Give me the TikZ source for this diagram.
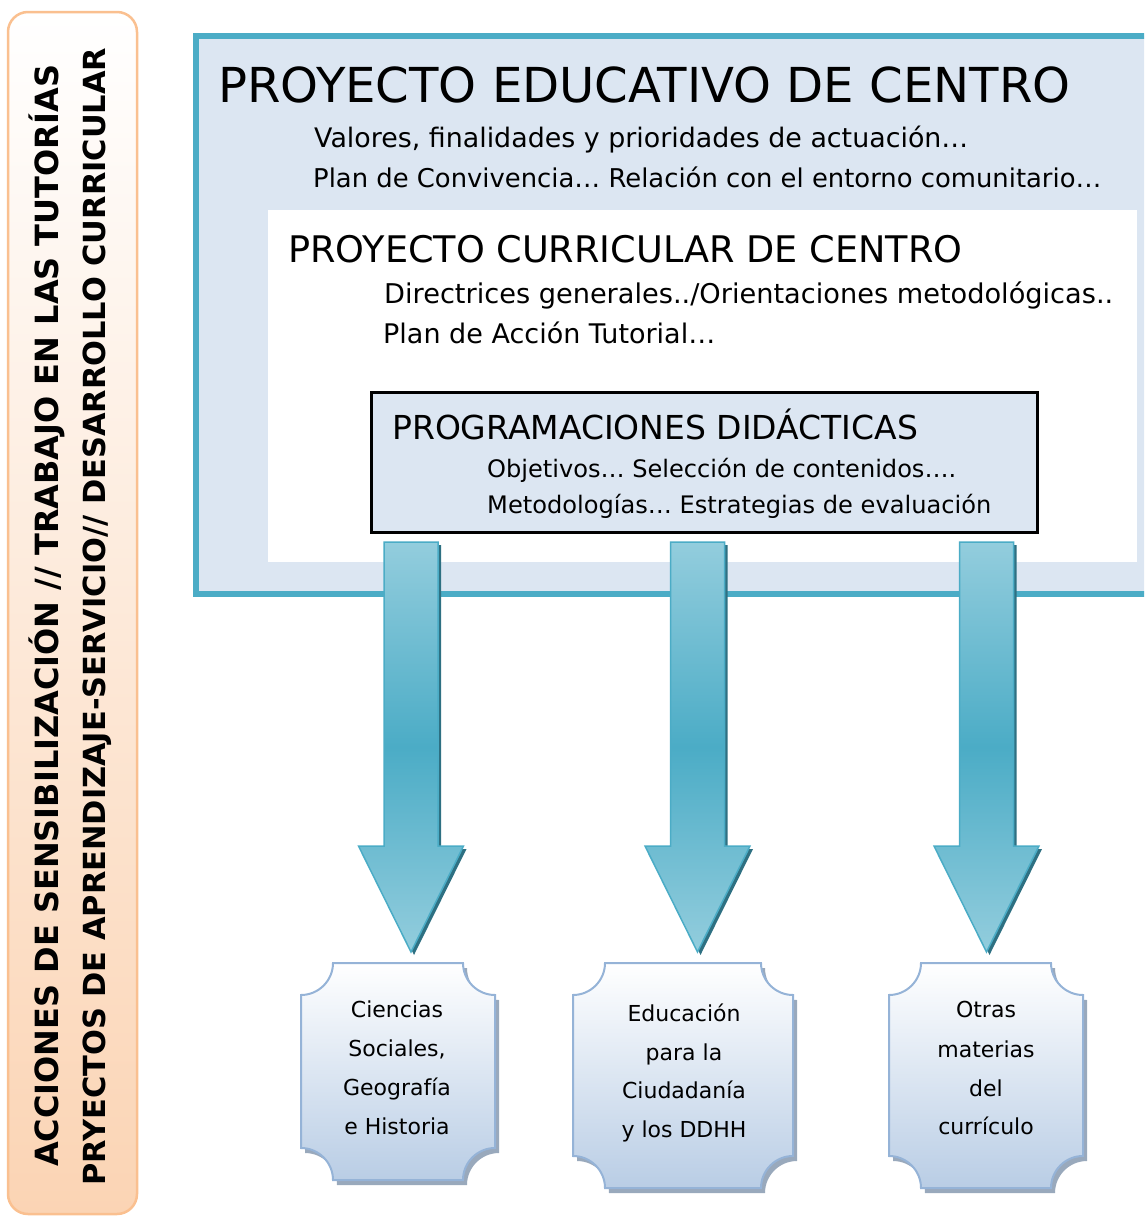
\documentclass[tikz,border=0pt]{standalone}
\usepackage{fontspec}
\setmainfont{DejaVu Sans}
\usepackage{graphicx}
\definecolor{blueborder}{HTML}{4BACC6}
\definecolor{lightfill}{HTML}{DCE6F2}
\definecolor{arrowlight}{HTML}{93CDDD}
\definecolor{arrowdark}{HTML}{4BACC6}
\definecolor{arrowshade}{HTML}{2E7082}
\definecolor{plaqueborder}{HTML}{95B3D7}
\definecolor{plaquebottom}{HTML}{B9CDE5}
\definecolor{plaqueshadow}{HTML}{8093AB}
\definecolor{peachborder}{HTML}{FAC090}
\definecolor{peachbottom}{HTML}{FBD4B4}
\newcommand{\fw}[2]{\resizebox{#1}{!}{#2}}
\newcommand{\plaquepath}[4]{%
  ({#1+32},#2) -- ({#3-32},#2)
  .. controls ({#3-32},{#2+17.6}) and ({#3-17.6},{#2+32}) .. (#3,{#2+32})
  -- (#3,{#4-32})
  .. controls ({#3-17.6},{#4-32}) and ({#3-32},{#4-17.6}) .. ({#3-32},#4)
  -- ({#1+32},#4)
  .. controls ({#1+32},{#4-17.6}) and ({#1+17.6},{#4-32}) .. (#1,{#4-32})
  -- (#1,{#2+32})
  .. controls ({#1+17.6},{#2+32}) and ({#1+32},{#2+17.6}) .. ({#1+32},#2) -- cycle}
\newcommand{\arrowpath}[1]{%
  ({#1-27},542) -- ({#1+27},542) -- ({#1+27},846) -- ({#1+52.5},846)
  -- (#1,952) -- ({#1-52.5},846) -- ({#1-27},846) -- cycle}
\tikzset{
  outerbox/.style={fill=lightfill, draw=blueborder, line width=5.5pt},
  innerbox/.style={fill=white},
  progbox/.style={fill=lightfill, draw=black, line width=3pt},
  blockarrow/.style={top color=arrowlight, bottom color=arrowlight, middle color=arrowdark, draw=blueborder, line width=1.5pt, line join=miter},
  arrowshadow/.style={fill=arrowshade},
  plaque/.style={top color=white, bottom color=plaquebottom, draw=plaqueborder, line width=2pt},
  plaqueshade/.style={fill=plaqueshadow, opacity=0.8},
  sidebar/.style={top color=white, bottom color=peachbottom, draw=peachborder, line width=2.5pt, rounded corners=20pt},
  txt/.style={anchor=base west, inner sep=0pt},
  sidetxt/.style={anchor=base west, inner sep=0pt, rotate=90, font=\bfseries},
  ptxt/.style={anchor=base, inner sep=0pt, font=\fontsize{22}{26}\selectfont}
}
\begin{document}
\begin{tikzpicture}[x=1pt, y=-1pt]
\useasboundingbox (0,0) rectangle (1144,1216);
\begin{scope}
\clip (0,0) rectangle (1144,1216);
% side bar
\path[sidebar] (8,12) rectangle (137,1214);
\node[sidetxt] (side1) at (59,1167) {\fw{1102pt}{ACCIONES DE SENSIBILIZACIÓN // TRABAJO EN LAS TUTORÍAS}};
\node[sidetxt] (side2) at (105,1186) {\fw{1138pt}{PRYECTOS DE APRENDIZAJE-SERVICIO// DESARROLLO CURRICULAR}};
% outer box
\path[outerbox] (196,36) rectangle (1170,594);
\path[innerbox] (268,210) rectangle (1137,562);
\node[txt] (pec) at (218,102) {\fw{852pt}{PROYECTO EDUCATIVO DE CENTRO}};
\node[txt] (pec1) at (314,147) {\fw{654pt}{Valores, finalidades y prioridades de actuación…}};
\node[txt] (pec2) at (313,187) {\fw{788pt}{Plan de Convivencia… Relación con el entorno comunitario…}};
\node[txt] (pcc) at (288,262) {\fw{674pt}{PROYECTO CURRICULAR DE CENTRO}};
\node[txt] (pcc1) at (384,303) {\fw{729pt}{Directrices generales../Orientaciones metodológicas..}};
\node[txt] (pcc2) at (383,343) {\fw{332pt}{Plan de Acción Tutorial…}};
% programaciones
\path[progbox] (371,392) rectangle (1037,532);
\node[txt] (pd) at (392,439) {\fw{526pt}{PROGRAMACIONES DIDÁCTICAS}};
\node[txt] (pd1) at (487,477) {\fw{469pt}{Objetivos… Selección de contenidos….}};
\node[txt] (pd2) at (487,513) {\fw{504pt}{Metodologías… Estrategias de evaluación}};
\end{scope}
% arrows
\foreach \cx in {411,697.5,986.5}{
  \path[arrowshadow, shift={(3,3)}] \arrowpath{\cx};
  \path[blockarrow] \arrowpath{\cx};
}
% plaques
\path[plaqueshade, shift={(4,5)}] \plaquepath{301}{963}{495}{1180};
\path[plaque] \plaquepath{301}{963}{495}{1180};
\path[plaqueshade, shift={(4,5)}] \plaquepath{573}{963}{793}{1188};
\path[plaque] \plaquepath{573}{963}{793}{1188};
\path[plaqueshade, shift={(4,5)}] \plaquepath{889}{963}{1083}{1188};
\path[plaque] \plaquepath{889}{963}{1083}{1188};
\node[ptxt] (a1) at (397,1017) {Ciencias};
\node[ptxt] (a2) at (397,1056) {Sociales,};
\node[ptxt] (a3) at (397,1095) {Geografía};
\node[ptxt] (a4) at (397,1134) {e Historia};
\node[ptxt] (b1) at (684,1021) {Educación};
\node[ptxt] (b2) at (684,1060) {para la};
\node[ptxt] (b3) at (684,1098) {Ciudadanía};
\node[ptxt] (b4) at (684,1137) {y los DDHH};
\node[ptxt] (c1) at (986,1017) {Otras};
\node[ptxt] (c2) at (986,1057) {materias};
\node[ptxt] (c3) at (986,1096) {del};
\node[ptxt] (c4) at (986,1134) {currículo};
\end{tikzpicture}
\end{document}
